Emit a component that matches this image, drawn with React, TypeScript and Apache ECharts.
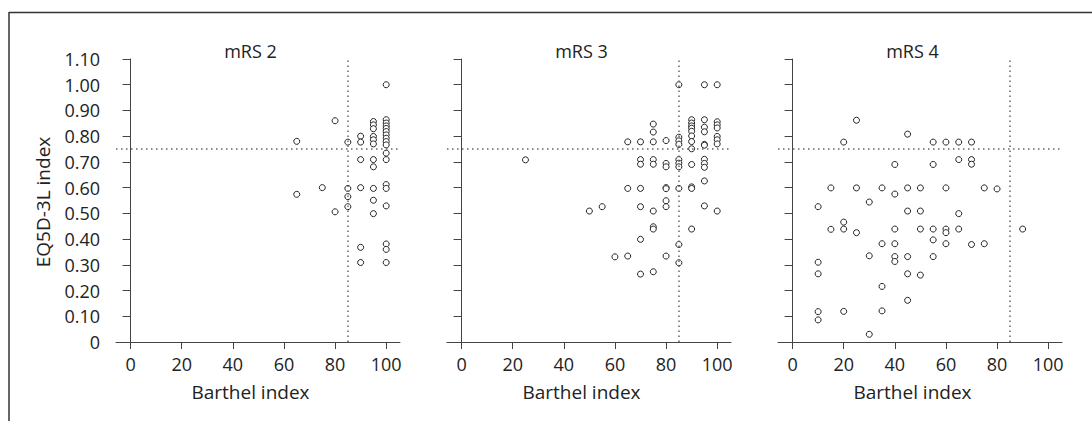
import React, { useEffect, useRef } from "react";
import * as echarts from "echarts";

// ---- Data (Barthel index, EQ5D-3L index) ----
const panelTitles = ["mRS 2", "mRS 3", "mRS 4"];
const xTickValues = [0, 20, 40, 60, 80, 100];
const yTickInterval = 0.1;
const cutoffEQ5D = 0.75;
const cutoffBarthel = 85;

const mrs2: number[][] = [
  [65, 0.78], [65, 0.574], [75, 0.6], [80, 0.86], [80, 0.506],
  [85, 0.777], [85, 0.597], [85, 0.565], [85, 0.526],
  [90, 0.8], [90, 0.777], [90, 0.709], [90, 0.6], [90, 0.368], [90, 0.309],
  [95, 0.857], [95, 0.844], [95, 0.829], [95, 0.799], [95, 0.786], [95, 0.77],
  [95, 0.709], [95, 0.681], [95, 0.597], [95, 0.551], [95, 0.499],
  [100, 1.0], [100, 0.864], [100, 0.851], [100, 0.84], [100, 0.83], [100, 0.818],
  [100, 0.805], [100, 0.792], [100, 0.779], [100, 0.766], [100, 0.734], [100, 0.709],
  [100, 0.612], [100, 0.597], [100, 0.529], [100, 0.381], [100, 0.36], [100, 0.309],
];

const mrs3: number[][] = [
  [25, 0.708], [50, 0.509], [55, 0.526], [60, 0.331],
  [65, 0.778], [65, 0.597], [65, 0.334],
  [70, 0.778], [70, 0.709], [70, 0.691], [70, 0.597], [70, 0.526], [70, 0.399], [70, 0.264],
  [75, 0.847], [75, 0.816], [75, 0.778], [75, 0.709], [75, 0.691], [75, 0.509], [75, 0.448], [75, 0.439], [75, 0.273],
  [80, 0.783], [80, 0.694], [80, 0.681], [80, 0.6], [80, 0.596], [80, 0.549], [80, 0.526], [80, 0.334],
  [85, 1.0], [85, 0.796], [85, 0.782], [85, 0.768], [85, 0.709], [85, 0.695], [85, 0.681], [85, 0.597], [85, 0.379], [85, 0.308],
  [90, 0.864], [90, 0.851], [90, 0.84], [90, 0.831], [90, 0.819], [90, 0.801], [90, 0.779], [90, 0.751], [90, 0.69], [90, 0.603], [90, 0.597], [90, 0.439],
  [95, 1.0], [95, 0.864], [95, 0.835], [95, 0.817], [95, 0.768], [95, 0.765], [95, 0.71], [95, 0.694], [95, 0.679], [95, 0.626], [95, 0.529],
  [100, 1.0], [100, 0.856], [100, 0.844], [100, 0.832], [100, 0.799], [100, 0.786], [100, 0.77], [100, 0.509],
];

const mrs4: number[][] = [
  [10, 0.526], [10, 0.31], [10, 0.265], [10, 0.118], [10, 0.086],
  [15, 0.599], [15, 0.438],
  [20, 0.777], [20, 0.466], [20, 0.439], [20, 0.119],
  [25, 0.862], [25, 0.599], [25, 0.425],
  [30, 0.544], [30, 0.335], [30, 0.03],
  [35, 0.599], [35, 0.382], [35, 0.216], [35, 0.121],
  [40, 0.69], [40, 0.575], [40, 0.439], [40, 0.382], [40, 0.332], [40, 0.313],
  [45, 0.808], [45, 0.599], [45, 0.509], [45, 0.332], [45, 0.265], [45, 0.162],
  [50, 0.599], [50, 0.509], [50, 0.439], [50, 0.26],
  [55, 0.777], [55, 0.69], [55, 0.439], [55, 0.397], [55, 0.332],
  [60, 0.777], [60, 0.599], [60, 0.439], [60, 0.425], [60, 0.382],
  [65, 0.777], [65, 0.709], [65, 0.499], [65, 0.439],
  [70, 0.777], [70, 0.709], [70, 0.691], [70, 0.379],
  [75, 0.599], [75, 0.382],
  [80, 0.595],
  [90, 0.439],
];

const panels = [mrs2, mrs3, mrs4];

const FONT = "'Open Sans', 'Noto Sans', sans-serif";
const TEXT = "#222";
const AXIS = "#444";

export default function App() {
  const ref = useRef<HTMLDivElement>(null);

  useEffect(() => {
    if (!ref.current) return;
    const chart = echarts.init(ref.current, undefined, { renderer: "svg" });

    const gridLefts = [116, 447, 778];
    const gridTop = 59;
    const gridHeight = 283;
    const gridWidth = 284;

    const grids = gridLefts.map((l) => ({ left: l, top: gridTop, width: gridWidth, height: gridHeight }));

    const xAxes = gridLefts.map((_, i) => ({
      type: "value",
      gridIndex: i,
      min: -5.7,
      max: 105.4,
      splitLine: { show: false },
      axisLine: { show: true, lineStyle: { color: AXIS, width: 1 } },
      axisTick: { show: true, length: 7, customValues: xTickValues, lineStyle: { color: AXIS } },
      axisLabel: { show: true, customValues: xTickValues, margin: 13, color: TEXT, fontSize: 18, fontFamily: FONT },
    }));

    const yAxes = gridLefts.map((_, i) => ({
      type: "value",
      gridIndex: i,
      min: 0,
      max: 1.1,
      interval: yTickInterval,
      splitLine: { show: false },
      axisLine: { show: true, lineStyle: { color: AXIS, width: 1 } },
      axisTick: { show: true, length: 8, lineStyle: { color: AXIS } },
      axisLabel: {
        show: i === 0,
        margin: 16,
        color: TEXT,
        fontSize: 18,
        fontFamily: FONT,
        formatter: (v: number) => (v === 0 ? "0" : v.toFixed(2)),
      },
    }));

    const series = panels.map((d, i) => ({
      type: "scatter",
      xAxisIndex: i,
      yAxisIndex: i,
      data: d,
      symbol: "circle",
      symbolSize: 6,
      itemStyle: { color: "#fff", borderColor: "#222", borderWidth: 1, opacity: 1 },
      silent: true,
      markLine: {
        silent: true,
        symbol: "none",
        label: { show: false },
        lineStyle: { color: "#666", width: 1.5, type: [1.5, 3.5] },
        data: [{ yAxis: cutoffEQ5D }, { xAxis: cutoffBarthel }],
      },
    }));

    const graphics: any[] = [
      { type: "line", shape: { x1: 9, y1: 12.5, x2: 1092, y2: 12.5 }, style: { stroke: "#333", lineWidth: 1.5 } },
      { type: "line", shape: { x1: 9, y1: 12, x2: 9, y2: 421 }, style: { stroke: "#333", lineWidth: 1.5 } },
      {
        type: "text",
        x: 43,
        y: 202,
        rotation: Math.PI / 2,
        style: { text: "EQ5D-3L index", font: `19px ${FONT}`, fill: TEXT, textAlign: "center", textVerticalAlign: "middle" },
      },
    ];
    gridLefts.forEach((l, i) => {
      graphics.push({
        type: "text",
        x: l + 134.5,
        y: 51,
        style: { text: panelTitles[i], font: `18px ${FONT}`, fill: TEXT, textAlign: "center", textVerticalAlign: "middle" },
      });
      graphics.push({
        type: "text",
        x: l + 134.5,
        y: 392,
        style: { text: "Barthel index", font: `19px ${FONT}`, fill: TEXT, textAlign: "center", textVerticalAlign: "middle" },
      });
    });

    chart.setOption({
      animation: false,
      backgroundColor: "#fff",
      grid: grids,
      xAxis: xAxes,
      yAxis: yAxes,
      series,
      graphic: graphics,
    } as any);

    return () => chart.dispose();
  }, []);

  return <div ref={ref} style={{ position: "absolute", left: 0, top: 0, width: 1092, height: 421 }} />;
}
